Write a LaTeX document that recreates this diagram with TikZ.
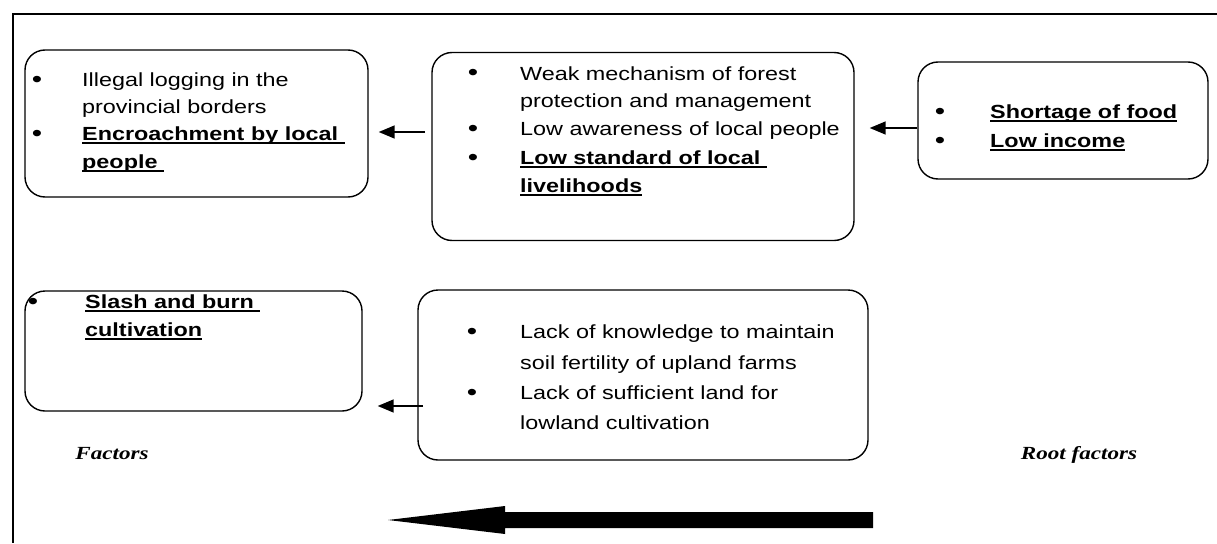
\documentclass[tikz,border=0pt]{standalone}
\usepackage{fontspec}
\setmainfont[FakeStretch=1.23]{Liberation Sans}
\newfontfamily\tnr[FakeStretch=1.25]{Liberation Serif}
\usetikzlibrary{arrows.meta}
\newcommand{\myul}[1]{\setbox0\hbox{#1}\rlap{\rule[-3.8pt]{\wd0}{1.5pt}}\box0}
\begin{document}
\begin{tikzpicture}[x=1pt,y=-1pt,
 box/.style={draw, line width=1.4pt, rounded corners=20pt, inner sep=0pt},
 txt/.style={anchor=base west, inner sep=0pt, font=\fontsize{19}{19}\selectfont},
 btxt/.style={txt, font=\fontsize{19}{19}\selectfont\bfseries},
 bul/.style={anchor=base, inner sep=0pt, font=\fontsize{24}{24}\selectfont},
 lab/.style={anchor=base, inner sep=0pt, font=\fontsize{18.5}{18.5}\selectfont\tnr\bfseries\itshape},
 arr/.style={line width=1.5pt, -{Triangle[length=16pt,width=13pt]}},
]
\useasboundingbox (0,0) rectangle (1217,543);
% outer frame
\draw[line width=1.6pt] (1217,14) -- (13,14) -- (13,543);
% boxes
\node[box, minimum width=343pt, minimum height=147pt] (b1) at (196.5,123.5) {};
\node[box, minimum width=422pt, minimum height=188pt] (b2) at (643,146.5) {};
\node[box, minimum width=290pt, minimum height=117pt] (b3) at (1063,120.5) {};
\node[box, minimum width=337pt, minimum height=120pt] (b4) at (193.5,351) {};
\node[box, minimum width=450pt, minimum height=170pt] (b5) at (643,375) {};
% box 1
\node[bul] (b1u1) at (37,87) {•};
\node[txt] (b1t1) at (82,86) {Illegal logging in the};
\node[txt] (b1t2) at (82,113) {provincial borders};
\node[bul] (b1u2) at (37,141) {•};
\node[btxt] (b1t3) at (82,140) {\myul{Encroachment by local\ }};
\node[btxt] (b1t4) at (82,168) {\myul{people\ }};
% box 2
\node[bul] (b2u1) at (473,81) {•};
\node[txt] (b2t1) at (520,80) {Weak mechanism of forest};
\node[txt] (b2t2) at (520,107) {protection and management};
\node[bul] (b2u2) at (473,136) {•};
\node[txt] (b2t3) at (520,135) {Low awareness of local people};
\node[bul] (b2u3) at (473,165) {•};
\node[btxt] (b2t4) at (520,164) {\myul{Low standard of local\ }};
\node[btxt] (b2t5) at (520,192) {\myul{livelihoods}};
% box 3
\node[bul] (b3u1) at (940,119) {•};
\node[btxt] (b3t1) at (990,118) {\myul{Shortage of food}};
\node[bul] (b3u2) at (940,148) {•};
\node[btxt] (b3t2) at (990,147) {\myul{Low income}};
% box 4
\node[bul] (b4u1) at (33,309) {•};
\node[btxt] (b4t1) at (85,308) {\myul{Slash and burn\ }};
\node[btxt] (b4t2) at (85,336) {\myul{cultivation}};
% box 5
\node[bul] (b5u1) at (472,339) {•};
\node[txt] (b5t1) at (520,338) {Lack of knowledge to maintain};
\node[txt] (b5t2) at (520,369) {soil fertility of upland farms};
\node[bul] (b5u2) at (472,400) {•};
\node[txt] (b5t3) at (520,399) {Lack of sufficient land for};
\node[txt] (b5t4) at (520,429) {lowland cultivation};
% labels
\node[lab] (f) at (112,459) {Factors};
\node[lab] (rf) at (1079,459) {Root factors};
% small arrows
\coordinate (a1s) at (425,132);
\coordinate (a2s) at (918,128);
\coordinate (a3s) at (423,406);
\draw[arr, shorten >=10pt] (a1s) -- (b1.east |- a1s);
\draw[arr, shorten >=15pt] (b3.west |- a2s) -- (b2.east |- a2s);
\draw[arr, shorten >=15pt] (a3s) -- (b4.east |- a3s);
% big arrow
\fill (873,512) -- (505,512) -- (505,506) -- (388,520) -- (505,534) -- (505,528) -- (873,528) -- cycle;
\end{tikzpicture}
\end{document}
